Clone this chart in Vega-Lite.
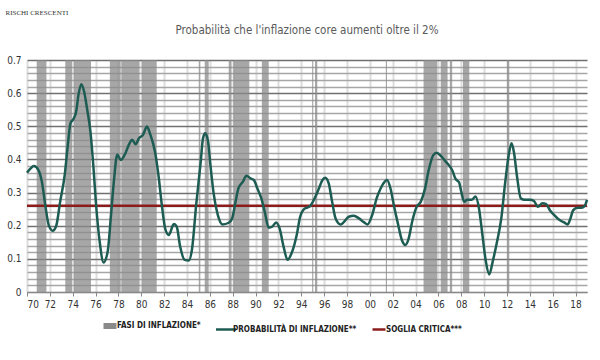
{
  "$schema": "https://vega.github.io/schema/vega-lite/v6.json",
  "autosize": {"type": "none"},
  "width": 560,
  "height": 232,
  "padding": {"left": 27, "top": 60, "right": 13, "bottom": 68},
  "background": "white",
  "title": {
    "text": "Probabilità che l'inflazione core aumenti oltre il 2%",
    "anchor": "middle",
    "frame": "group",
    "offset": -28,
    "font": "DejaVu Sans Condensed",
    "fontSize": 11.5,
    "fontWeight": "normal",
    "color": "#5a5a5a"
  },
  "config": {
    "view": {"stroke": null},
    "legend": {
      "orient": "none",
      "legendX": 79,
      "legendY": 262,
      "direction": "horizontal",
      "symbolType": "stroke",
      "symbolSize": 400,
      "symbolStrokeWidth": 2.5,
      "labelFont": "DejaVu Sans Condensed",
      "labelFontWeight": "bold",
      "labelFontSize": 8,
      "labelColor": "#222222",
      "columnPadding": 10,
      "labelOffset": 3,
      "labelLimit": 200
    }
  },
  "datasets": {
    "prob": [
      {"anno": 1970.0, "p": 0.36}, {"anno": 1970.3, "p": 0.372}, {"anno": 1970.6, "p": 0.38}, {"anno": 1971.0, "p": 0.368},
      {"anno": 1971.3, "p": 0.333}, {"anno": 1971.6, "p": 0.262}, {"anno": 1971.9, "p": 0.202}, {"anno": 1972.25, "p": 0.185},
      {"anno": 1972.56, "p": 0.2}, {"anno": 1972.9, "p": 0.272}, {"anno": 1973.3, "p": 0.353}, {"anno": 1973.6, "p": 0.453},
      {"anno": 1973.8, "p": 0.509}, {"anno": 1974.1, "p": 0.524}, {"anno": 1974.3, "p": 0.544}, {"anno": 1974.5, "p": 0.594},
      {"anno": 1974.75, "p": 0.627}, {"anno": 1975.0, "p": 0.604}, {"anno": 1975.25, "p": 0.554}, {"anno": 1975.55, "p": 0.484},
      {"anno": 1975.8, "p": 0.383}, {"anno": 1976.07, "p": 0.252}, {"anno": 1976.36, "p": 0.152}, {"anno": 1976.7, "p": 0.089},
      {"anno": 1977.06, "p": 0.122}, {"anno": 1977.35, "p": 0.232}, {"anno": 1977.6, "p": 0.333}, {"anno": 1977.9, "p": 0.415},
      {"anno": 1978.2, "p": 0.398}, {"anno": 1978.6, "p": 0.418}, {"anno": 1978.9, "p": 0.443}, {"anno": 1979.2, "p": 0.459},
      {"anno": 1979.5, "p": 0.446}, {"anno": 1979.8, "p": 0.464}, {"anno": 1980.15, "p": 0.474}, {"anno": 1980.5, "p": 0.499},
      {"anno": 1980.8, "p": 0.474}, {"anno": 1981.2, "p": 0.423}, {"anno": 1981.5, "p": 0.353}, {"anno": 1981.8, "p": 0.262},
      {"anno": 1982.1, "p": 0.19}, {"anno": 1982.4, "p": 0.172}, {"anno": 1982.85, "p": 0.205}, {"anno": 1983.1, "p": 0.197},
      {"anno": 1983.4, "p": 0.137}, {"anno": 1983.8, "p": 0.097}, {"anno": 1984.15, "p": 0.095}, {"anno": 1984.45, "p": 0.132},
      {"anno": 1984.8, "p": 0.262}, {"anno": 1985.2, "p": 0.393}, {"anno": 1985.4, "p": 0.464}, {"anno": 1985.6, "p": 0.479},
      {"anno": 1985.85, "p": 0.453}, {"anno": 1986.05, "p": 0.383}, {"anno": 1986.35, "p": 0.293}, {"anno": 1986.7, "p": 0.232},
      {"anno": 1987.1, "p": 0.204}, {"anno": 1987.65, "p": 0.209}, {"anno": 1987.95, "p": 0.222}, {"anno": 1988.25, "p": 0.272},
      {"anno": 1988.5, "p": 0.313}, {"anno": 1988.9, "p": 0.333}, {"anno": 1989.2, "p": 0.351}, {"anno": 1989.55, "p": 0.343},
      {"anno": 1989.85, "p": 0.338}, {"anno": 1990.15, "p": 0.313}, {"anno": 1990.5, "p": 0.283}, {"anno": 1990.8, "p": 0.242},
      {"anno": 1991.15, "p": 0.194}, {"anno": 1991.45, "p": 0.197}, {"anno": 1991.8, "p": 0.21}, {"anno": 1992.1, "p": 0.192},
      {"anno": 1992.45, "p": 0.137}, {"anno": 1992.8, "p": 0.097}, {"anno": 1993.15, "p": 0.117}, {"anno": 1993.6, "p": 0.172},
      {"anno": 1993.9, "p": 0.227}, {"anno": 1994.3, "p": 0.252}, {"anno": 1994.7, "p": 0.257}, {"anno": 1995.2, "p": 0.285},
      {"anno": 1995.55, "p": 0.313}, {"anno": 1995.85, "p": 0.338}, {"anno": 1996.1, "p": 0.345}, {"anno": 1996.4, "p": 0.328},
      {"anno": 1996.7, "p": 0.272}, {"anno": 1997.0, "p": 0.222}, {"anno": 1997.45, "p": 0.204}, {"anno": 1997.7, "p": 0.21},
      {"anno": 1998.15, "p": 0.227}, {"anno": 1998.6, "p": 0.23}, {"anno": 1999.05, "p": 0.222}, {"anno": 1999.5, "p": 0.21},
      {"anno": 1999.8, "p": 0.204}, {"anno": 2000.2, "p": 0.232}, {"anno": 2000.6, "p": 0.283}, {"anno": 2000.95, "p": 0.313},
      {"anno": 2001.3, "p": 0.333}, {"anno": 2001.5, "p": 0.338}, {"anno": 2001.8, "p": 0.313}, {"anno": 2002.1, "p": 0.262},
      {"anno": 2002.45, "p": 0.207}, {"anno": 2002.8, "p": 0.157}, {"anno": 2003.1, "p": 0.142}, {"anno": 2003.4, "p": 0.162},
      {"anno": 2003.7, "p": 0.212}, {"anno": 2004.1, "p": 0.257}, {"anno": 2004.45, "p": 0.272}, {"anno": 2004.8, "p": 0.308},
      {"anno": 2005.15, "p": 0.368}, {"anno": 2005.55, "p": 0.413}, {"anno": 2005.85, "p": 0.42}, {"anno": 2006.2, "p": 0.411},
      {"anno": 2006.6, "p": 0.395}, {"anno": 2006.9, "p": 0.383}, {"anno": 2007.2, "p": 0.368}, {"anno": 2007.5, "p": 0.341},
      {"anno": 2007.8, "p": 0.331}, {"anno": 2008.0, "p": 0.303}, {"anno": 2008.25, "p": 0.272}, {"anno": 2008.5, "p": 0.278},
      {"anno": 2008.9, "p": 0.278}, {"anno": 2009.25, "p": 0.288}, {"anno": 2009.55, "p": 0.252}, {"anno": 2009.85, "p": 0.172},
      {"anno": 2010.15, "p": 0.092}, {"anno": 2010.45, "p": 0.053}, {"anno": 2010.75, "p": 0.092}, {"anno": 2011.1, "p": 0.147},
      {"anno": 2011.5, "p": 0.222}, {"anno": 2011.85, "p": 0.333}, {"anno": 2012.15, "p": 0.413}, {"anno": 2012.4, "p": 0.449},
      {"anno": 2012.6, "p": 0.423}, {"anno": 2012.9, "p": 0.343}, {"anno": 2013.2, "p": 0.283}, {"anno": 2013.55, "p": 0.278},
      {"anno": 2014.0, "p": 0.278}, {"anno": 2014.35, "p": 0.275}, {"anno": 2014.7, "p": 0.257}, {"anno": 2015.1, "p": 0.268},
      {"anno": 2015.4, "p": 0.266}, {"anno": 2015.75, "p": 0.247}, {"anno": 2016.2, "p": 0.23}, {"anno": 2016.6, "p": 0.217},
      {"anno": 2017.0, "p": 0.21}, {"anno": 2017.3, "p": 0.204}, {"anno": 2017.5, "p": 0.217}, {"anno": 2017.8, "p": 0.247},
      {"anno": 2018.15, "p": 0.254}, {"anno": 2018.5, "p": 0.254}, {"anno": 2018.8, "p": 0.26}, {"anno": 2019.0, "p": 0.278}
    ],
    "fasi": [
      {"inizio": 1970.85, "fine": 1971.7}, {"inizio": 1973.35, "fine": 1973.95}, {"inizio": 1974.1, "fine": 1975.6},
      {"inizio": 1977.25, "fine": 1978.2}, {"inizio": 1978.25, "fine": 1979.85}, {"inizio": 1980.05, "fine": 1981.35},
      {"inizio": 1985.03, "fine": 1985.17}, {"inizio": 1985.55, "fine": 1985.9}, {"inizio": 1987.65, "fine": 1987.9},
      {"inizio": 1988.05, "fine": 1989.45}, {"inizio": 1990.55, "fine": 1991.15}, {"inizio": 1994.95, "fine": 1995.05},
      {"inizio": 1995.2, "fine": 1995.4}, {"inizio": 2001.4, "fine": 2001.5}, {"inizio": 2004.7, "fine": 2005.9},
      {"inizio": 2006.2, "fine": 2006.8}, {"inizio": 2007.0, "fine": 2007.2}, {"inizio": 2008.15, "fine": 2008.7},
      {"inizio": 2012.0, "fine": 2012.2}
    ],
    "soglia": [{"v": 0.26}]
  },
  "layer": [
    {
      "data": {"name": "fasi"},
      "mark": {"type": "rect", "opacity": 0.75},
      "encoding": {
        "x": {
          "field": "inizio", "type": "quantitative",
          "scale": {"domain": [1970, 2019], "nice": false, "zero": false},
          "axis": {
            "title": null,
            "values": [1970, 1972, 1974, 1976, 1978, 1980, 1982, 1984, 1986, 1988, 1990, 1992, 1994, 1996, 1998, 2000, 2002, 2004, 2006, 2008, 2010, 2012, 2014, 2016, 2018],
            "tickCount": 100,
            "format": "d",
            "labelExpr": "substring(datum.label, 2)",
            "labelOverlap": false,
            "labelFont": "DejaVu Sans Condensed",
            "labelFontSize": 10,
            "labelColor": "#333333",
            "labelPadding": 3,
            "grid": true,
            "gridColor": "#dddddd",
            "gridWidth": 2,
            "domainColor": "#888888",
            "tickColor": "#888888",
            "tickSize": 4,
            "zindex": 0
          }
        },
        "x2": {"field": "fine"},
        "color": {"datum": "FASI DI INFLAZIONE*", "type": "nominal"}
      }
    },
    {
      "data": {"name": "soglia"},
      "mark": {"type": "rule", "strokeWidth": 2.5},
      "encoding": {
        "y": {"field": "v", "type": "quantitative"},
        "color": {"datum": "SOGLIA CRITICA***", "type": "nominal"}
      }
    },
    {
      "data": {"name": "prob"},
      "mark": {"type": "line", "strokeWidth": 2.5, "interpolate": "monotone"},
      "encoding": {
        "x": {"field": "anno", "type": "quantitative"},
        "y": {
          "field": "p", "type": "quantitative",
          "scale": {"domain": [0, 0.7], "nice": false},
          "axis": {
            "title": "RISCHI CRESCENTI",
            "titleAngle": 0,
            "titleAlign": "left",
            "titleBaseline": "alphabetic",
            "titleX": -22,
            "titleY": -46,
            "titleFont": "Liberation Serif",
            "titleFontSize": 7,
            "titleFontWeight": "normal",
            "titleColor": "#333333",
            "values": [0, 0.02, 0.04, 0.06, 0.08, 0.1, 0.12, 0.14, 0.16, 0.18, 0.2, 0.22, 0.24, 0.26, 0.28, 0.3, 0.32, 0.34, 0.36, 0.38, 0.4, 0.42, 0.44, 0.46, 0.48, 0.5, 0.52, 0.54, 0.56, 0.58, 0.6, 0.62, 0.64, 0.66, 0.68, 0.7],
            "tickCount": 100,
            "labelExpr": "round(datum.value * 50) % 5 == 0 ? format(datum.value, '~g') : ''",
            "labelOverlap": false,
            "labelFont": "DejaVu Sans Condensed",
            "labelFontSize": 10,
            "labelColor": "#333333",
            "labelPadding": 6,
            "ticks": false,
            "domain": false,
            "grid": true,
            "gridColor": {"condition": {"test": "round(datum.value * 50) % 5 == 0", "value": "#707070"}, "value": "#a6a6a6"},
            "gridWidth": 1.4,
            "zindex": 0
          }
        },
        "color": {
          "datum": "PROBABILITÀ DI INFLAZIONE**", "type": "nominal",
          "scale": {
            "domain": ["FASI DI INFLAZIONE*", "PROBABILITÀ DI INFLAZIONE**", "SOGLIA CRITICA***"],
            "range": ["#8a8a8a", "#1d5c52", "#8b1c1c"]
          },
          "legend": {
            "title": null,
            "encode": {
              "symbols": {
                "update": {
                  "stroke": {"signal": "scale('color', datum.value)"},
                  "strokeWidth": {"signal": "datum.value == 'FASI DI INFLAZIONE*' ? 6 : 2.5"},
                  "size": {"signal": "datum.value == 'PROBABILITÀ DI INFLAZIONE**' ? 400 : 169"}
                }
              }
            }
          }
        }
      }
    }
  ]
}
